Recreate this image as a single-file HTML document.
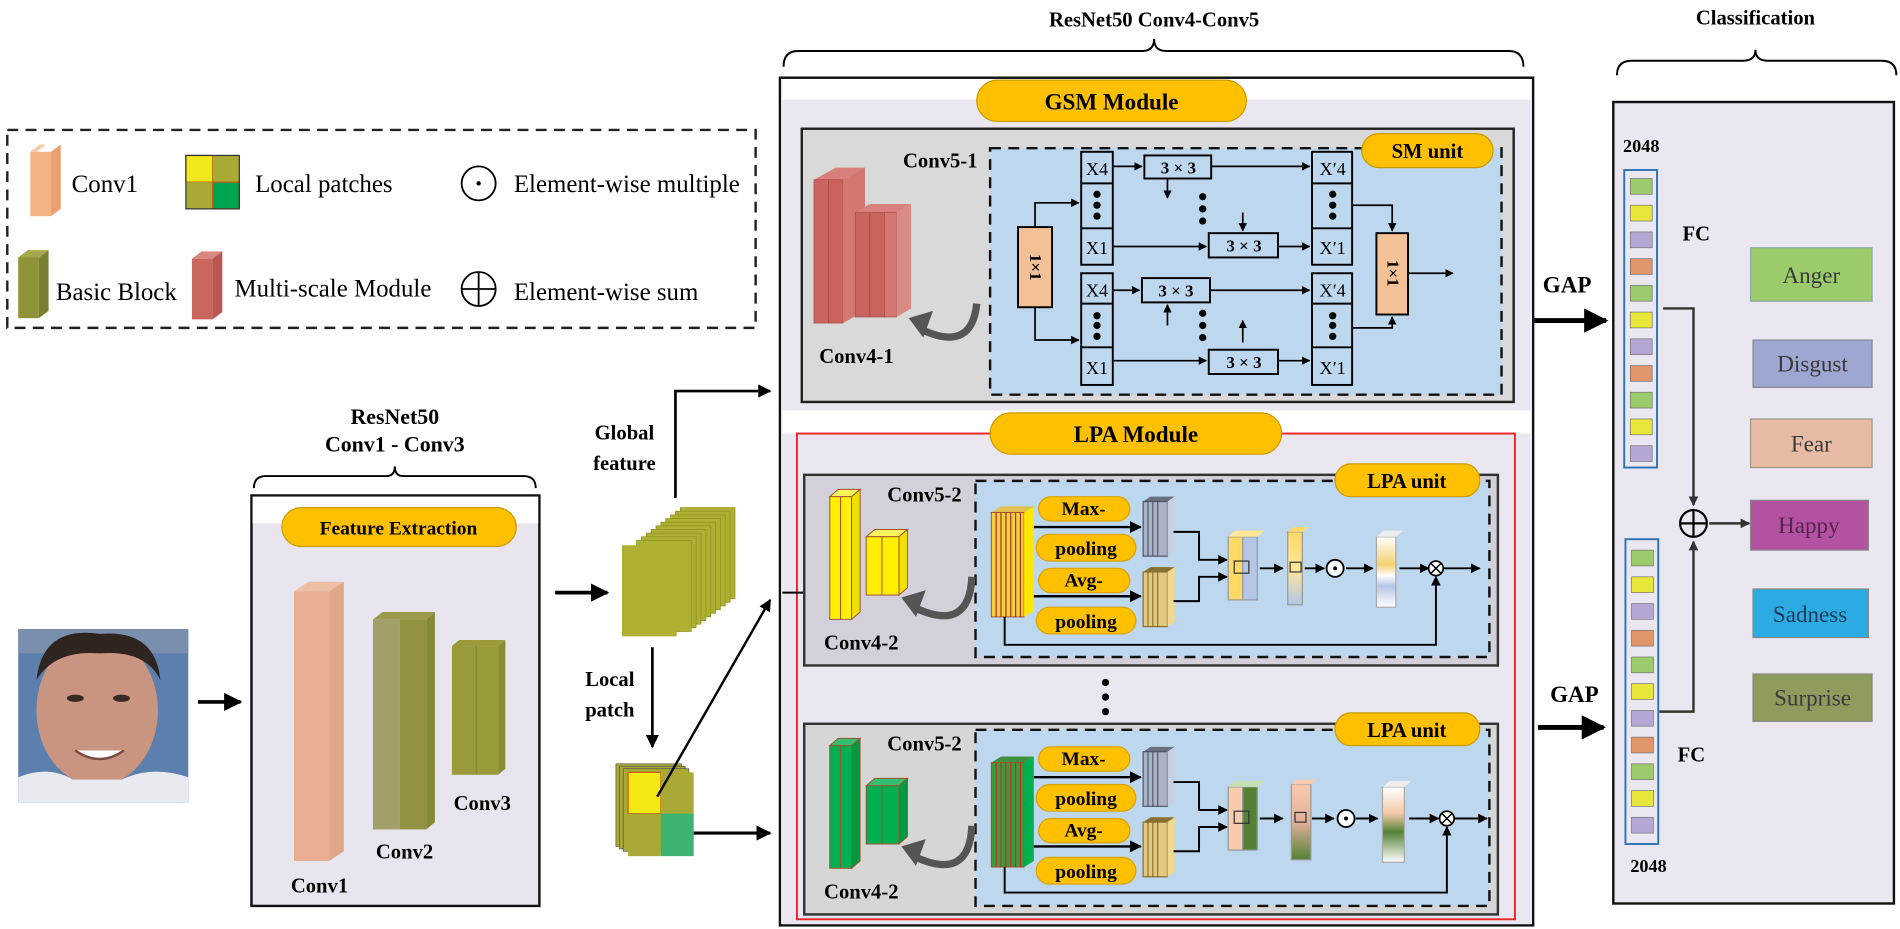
<!DOCTYPE html>
<html><head><meta charset="utf-8"><style>
html,body{margin:0;padding:0;background:#fff;}
svg{display:block;}
text{font-family:"Liberation Serif",serif;}
.b{font-weight:bold;}
</style></head><body>
<svg width="1900" height="929" viewBox="0 0 1564 765" preserveAspectRatio="none" xmlns="http://www.w3.org/2000/svg">
<defs>
<marker id="ar" viewBox="0 0 10 10" refX="9" refY="5" markerWidth="5" markerHeight="5" orient="auto-start-reverse"><path d="M0,0 L10,5 L0,10 z" fill="#000"/></marker>
<marker id="arg" viewBox="0 0 10 10" refX="9" refY="5" markerWidth="4" markerHeight="4" orient="auto"><path d="M0,0 L10,5 L0,10 z" fill="#333"/></marker>
<linearGradient id="wy" x1="0" y1="0" x2="0" y2="1"><stop offset="0" stop-color="#fff"/><stop offset="0.4" stop-color="#f4d070"/><stop offset="0.55" stop-color="#fff"/><stop offset="0.7" stop-color="#b4c7e7"/><stop offset="1" stop-color="#fff"/></linearGradient>
<linearGradient id="wg" x1="0" y1="0" x2="0" y2="1"><stop offset="0" stop-color="#fff"/><stop offset="0.35" stop-color="#f4c9a8"/><stop offset="0.6" stop-color="#548235"/><stop offset="1" stop-color="#fff"/></linearGradient>
<linearGradient id="yb" x1="0" y1="0" x2="0" y2="1"><stop offset="0" stop-color="#ffd966"/><stop offset="0.5" stop-color="#ffe699"/><stop offset="1" stop-color="#b4c7e7"/></linearGradient>
<linearGradient id="pg" x1="0" y1="0" x2="0" y2="1"><stop offset="0" stop-color="#f8cbad"/><stop offset="0.5" stop-color="#e2b09a"/><stop offset="1" stop-color="#548235"/></linearGradient>
</defs>

<!-- ===== Legend ===== -->
<rect x="6" y="107" width="616" height="163" fill="#fff" stroke="#222" stroke-width="2" stroke-dasharray="9,6"/>
<polygon points="25,125 33,119 38,119 30,125" fill="#f8c8a0"/><rect x="25" y="125" width="17" height="53" fill="#f4b183"/><polygon points="42,125 50,119 50,172 42,178" fill="#eaa070"/>
<text x="59" y="158" font-size="20.5">Conv1</text>
<rect x="153" y="128" width="22" height="22" fill="#f2e91c" stroke="#c55a11"/><rect x="175" y="128" width="22" height="22" fill="#a9a935"/><rect x="153" y="150" width="22" height="22" fill="#a9a935"/><rect x="175" y="150" width="22" height="22" fill="#00a550" stroke="#c55a11"/><rect x="153" y="128" width="44" height="44" fill="none" stroke="#333"/>
<text x="210" y="158" font-size="20.5">Local patches</text>
<circle cx="394" cy="151" r="14" fill="none" stroke="#000" stroke-width="1.5"/><circle cx="394" cy="151" r="1.8"/>
<text x="423" y="158" font-size="20.5">Element-wise multiple</text>
<polygon points="15,212 23,206 40,206 32,212" fill="#a5a84a"/><rect x="15" y="212" width="17" height="50" fill="#8f9438"/><polygon points="32,212 40,206 40,256 32,262" fill="#7b8030"/>
<text x="46" y="247" font-size="20.5">Basic Block</text>
<polygon points="158,213 166,207 183,207 175,213" fill="#d98880"/><rect x="158" y="213" width="17" height="50" fill="#c9665e"/><polygon points="175,213 183,207 183,257 175,263" fill="#b85850"/>
<text x="193" y="244" font-size="20.5">Multi-scale Module</text>
<circle cx="394" cy="238" r="14" fill="none" stroke="#000" stroke-width="1.5"/><line x1="380" y1="238" x2="408" y2="238" stroke="#000" stroke-width="1.5"/><line x1="394" y1="224" x2="394" y2="252" stroke="#000" stroke-width="1.5"/>
<text x="423" y="247" font-size="20.5">Element-wise sum</text>

<!-- ===== Left part ===== -->
<text x="325" y="349" font-size="18" class="b" text-anchor="middle">ResNet50</text>
<text x="325" y="372" font-size="18" class="b" text-anchor="middle">Conv1 - Conv3</text>
<path d="M209,402 Q209,392 219,392 L318,392 Q325,392 325,384 Q325,392 332,392 L431,392 Q441,392 441,402" fill="none" stroke="#000" stroke-width="1.6"/>
<rect x="207" y="408" width="237" height="338" fill="#e9e5ef" stroke="#111" stroke-width="2"/>
<rect x="208" y="409" width="235" height="22" fill="#fff"/>
<rect x="232" y="418" width="193" height="32" rx="16" fill="#ffc000" stroke="#c99a00"/>
<text x="328" y="440" font-size="16" class="b" text-anchor="middle">Feature Extraction</text>
<polygon points="242,487 254,479 283,479 271,487" fill="#efbfa5"/><rect x="242" y="487" width="29" height="222" fill="#e8ae92"/><polygon points="271,487 283,479 283,701 271,709" fill="#e0a688"/>
<polygon points="307,510 315,504 358,504 351,510" fill="#9a9a4a"/><rect x="307" y="510" width="22" height="173" fill="#a19f6a"/><rect x="329" y="510" width="22" height="173" fill="#929340"/><polygon points="351,510 358,504 358,677 351,683" fill="#858a35"/>
<polygon points="372,532 378,527 416,527 410,532" fill="#9a9a3a"/><rect x="372" y="532" width="38" height="106" fill="#999a3a"/><line x1="392" y1="532" x2="392" y2="638" stroke="#858a35"/><polygon points="410,532 416,527 416,633 410,638" fill="#8a8c30"/>
<text x="263" y="735" font-size="17" class="b" text-anchor="middle">Conv1</text>
<text x="333" y="707" font-size="17" class="b" text-anchor="middle">Conv2</text>
<text x="397" y="667" font-size="17" class="b" text-anchor="middle">Conv3</text>

<!-- face -->
<rect x="15" y="518" width="140" height="143" fill="#5d7fae"/>
<rect x="15" y="518" width="140" height="20" fill="#7a8fae"/>
<ellipse cx="80" cy="585" rx="50" ry="62" fill="#c99580"/>
<path d="M30,560 Q35,515 82,522 Q128,518 132,560 Q120,535 82,538 Q45,535 30,560z" fill="#2e2420"/>
<path d="M15,661 L15,640 Q40,630 60,642 L100,642 Q125,630 155,640 L155,661z" fill="#e8eaf0"/>
<ellipse cx="62" cy="575" rx="7" ry="3" fill="#3a2a25"/><ellipse cx="100" cy="575" rx="7" ry="3" fill="#3a2a25"/>
<path d="M62,618 Q82,632 102,618" fill="#fff" stroke="#7a4a40" stroke-width="2"/>
<line x1="163" y1="578" x2="198" y2="578" stroke="#000" stroke-width="3" marker-end="url(#ar)"/>
<line x1="457" y1="488" x2="500" y2="488" stroke="#000" stroke-width="3" marker-end="url(#ar)"/>

<!-- green stack -->
<g fill="#aeb032" stroke="#8e8f20" stroke-width="0.6">
<rect x="560" y="418" width="45" height="75"/><rect x="556" y="421" width="45" height="75"/><rect x="552" y="424" width="45" height="75"/><rect x="548" y="427" width="45" height="75"/><rect x="544" y="430" width="45" height="75"/><rect x="540" y="433" width="45" height="75"/><rect x="536" y="436" width="45" height="75"/><rect x="532" y="439" width="45" height="75"/><rect x="528" y="442" width="45" height="75"/><rect x="524" y="445" width="45" height="75"/><rect x="512" y="449" width="45" height="75" stroke="none"/>
</g>
<text x="514" y="362" font-size="17" class="b" text-anchor="middle">Global</text>
<text x="514" y="387" font-size="17" class="b" text-anchor="middle">feature</text>
<polyline points="556,410 556,322 634,322" fill="none" stroke="#000" stroke-width="2.2" marker-end="url(#ar)"/>
<text x="502" y="565" font-size="17" class="b" text-anchor="middle">Local</text>
<text x="502" y="590" font-size="17" class="b" text-anchor="middle">patch</text>
<line x1="537" y1="533" x2="537" y2="615" stroke="#000" stroke-width="2.2" marker-end="url(#ar)"/>
<!-- local patch -->
<g stroke="#555" stroke-width="0.6"><rect x="507" y="629" width="54" height="68" fill="#a9a935"/><rect x="510" y="631" width="54" height="68" fill="#a9a935"/><rect x="513" y="633" width="54" height="68" fill="#a9a935"/></g>
<rect x="517" y="636" width="27" height="34" fill="#f5e815" stroke="#c55a11"/><rect x="544" y="636" width="27" height="34" fill="#a9a935"/><rect x="517" y="670" width="27" height="35" fill="#a9a935"/><rect x="544" y="670" width="27" height="35" fill="#3cb371"/>
<line x1="541" y1="656" x2="634" y2="494" stroke="#000" stroke-width="2" marker-end="url(#ar)"/>
<line x1="571" y1="686" x2="634" y2="686" stroke="#000" stroke-width="2.5" marker-end="url(#ar)"/>

<!-- ===== Main box ===== -->
<text x="950" y="22" font-size="17" class="b" text-anchor="middle">ResNet50  Conv4-Conv5</text>
<path d="M645,55 Q645,42 657,42 L940,42 Q950,42 950,32 Q950,42 960,42 L1242,42 Q1254,42 1254,55" fill="none" stroke="#000" stroke-width="1.6"/>
<rect x="642" y="64" width="620" height="698" fill="#fff" stroke="#111" stroke-width="2"/>
<rect x="644" y="82" width="616" height="256" fill="#ebe7f0"/>
<rect x="644" y="357" width="616" height="404" fill="#ebe7f0"/>

<!-- GSM -->
<rect x="660" y="106" width="586" height="225" fill="#d9d9d9" stroke="#222" stroke-width="2"/>
<rect x="815" y="122" width="421" height="203" fill="#bdd7ee" stroke="#111" stroke-width="2" stroke-dasharray="9,6"/>
<rect x="804" y="66" width="222" height="34" rx="17" fill="#ffc000" stroke="#c99a00"/>
<text x="915" y="90" font-size="19" class="b" text-anchor="middle">GSM Module</text>
<rect x="1121" y="110" width="108" height="28" rx="14" fill="#ffc000" stroke="#c99a00"/>
<text x="1175" y="130" font-size="17" class="b" text-anchor="middle">SM unit</text>
<text x="774" y="138" font-size="17" class="b" text-anchor="middle">Conv5-1</text>
<polygon points="670,148 688,138 712,138 694,148" fill="#d9807a"/>
<rect x="670" y="148" width="12" height="118" fill="#c8655e" stroke="#a84a44" stroke-width="0.6"/><rect x="682" y="148" width="12" height="118" fill="#c9635c" stroke="#a84a44" stroke-width="0.6"/>
<polygon points="694,148 712,138 712,256 694,266" fill="#d37770"/>
<polygon points="704,175 716,168 750,168 738,175" fill="#d9807a"/>
<rect x="704" y="175" width="12" height="86" fill="#c8655e" stroke="#a84a44" stroke-width="0.6"/><rect x="716" y="175" width="12" height="86" fill="#c9635c" stroke="#a84a44" stroke-width="0.6"/><rect x="728" y="175" width="10" height="86" fill="#d37770" stroke="#a84a44" stroke-width="0.6"/>
<polygon points="738,175 750,168 750,254 738,261" fill="#d88a84"/>
<text x="705" y="299" font-size="17" class="b" text-anchor="middle">Conv4-1</text>
<path d="M804,250 Q800,290 760,272" fill="none" stroke="#555" stroke-width="6"/>
<polygon points="748,262 768,256 760,278" fill="#555"/>
<g stroke="#000" stroke-width="1.6" fill="none">
<rect x="838" y="187" width="28" height="66" fill="#f4c196"/>
<rect x="1133" y="192" width="26" height="67" fill="#f4c196"/>
<rect x="890" y="125" width="26" height="93" fill="#bdd7ee"/><line x1="890" y1="151" x2="916" y2="151"/><line x1="890" y1="188" x2="916" y2="188"/>
<rect x="890" y="225" width="26" height="92" fill="#bdd7ee"/><line x1="890" y1="250" x2="916" y2="250"/><line x1="890" y1="286" x2="916" y2="286"/>
<rect x="1080" y="125" width="33" height="93" fill="#bdd7ee"/><line x1="1080" y1="151" x2="1113" y2="151"/><line x1="1080" y1="188" x2="1113" y2="188"/>
<rect x="1080" y="225" width="33" height="92" fill="#bdd7ee"/><line x1="1080" y1="250" x2="1113" y2="250"/><line x1="1080" y1="286" x2="1113" y2="286"/>
<rect x="942" y="128" width="55" height="19"/><rect x="995" y="192" width="57" height="20"/><rect x="940" y="229" width="56" height="20"/><rect x="995" y="288" width="57" height="20"/>
</g>
<g stroke="#000" stroke-width="1.4" fill="none" marker-end="url(#ar)">
<polyline points="852,187 852,167 888,167"/><polyline points="852,253 852,280 888,280"/>
<line x1="916" y1="137" x2="940" y2="137"/><line x1="997" y1="137" x2="1078" y2="137"/>
<line x1="916" y1="203" x2="993" y2="203"/><line x1="1052" y1="203" x2="1078" y2="203"/>
<line x1="916" y1="239" x2="938" y2="239"/><line x1="996" y1="239" x2="1078" y2="239"/>
<line x1="916" y1="297" x2="993" y2="297"/><line x1="1052" y1="297" x2="1078" y2="297"/>
<line x1="961" y1="147" x2="961" y2="163"/><line x1="1023" y1="175" x2="1023" y2="190"/>
<line x1="961" y1="268" x2="961" y2="251"/><line x1="1023" y1="282" x2="1023" y2="264"/>
<polyline points="1113,169 1146,169 1146,190"/><polyline points="1113,270 1146,270 1146,261"/>
<line x1="1159" y1="225" x2="1196" y2="225"/>
</g>
<g font-size="15" text-anchor="middle">
<text x="903" y="144">X4</text><text x="903" y="209">X1</text><text x="903" y="244">X4</text><text x="903" y="308">X1</text>
<text x="1097" y="144">X′4</text><text x="1097" y="209">X′1</text><text x="1097" y="244">X′4</text><text x="1097" y="308">X′1</text>
</g>
<g font-size="14" class="b" text-anchor="middle"><text x="970" y="143">3 × 3</text><text x="1024" y="207">3 × 3</text><text x="968" y="244">3 × 3</text><text x="1024" y="303">3 × 3</text></g>
<text transform="translate(848,220) rotate(90)" font-size="14" class="b" text-anchor="middle">1×1</text>
<text transform="translate(1142,225) rotate(90)" font-size="14" class="b" text-anchor="middle">1×1</text>
<g fill="#000"><circle cx="903" cy="160" r="3"/><circle cx="903" cy="169" r="3"/><circle cx="903" cy="178" r="3"/><circle cx="903" cy="260" r="3"/><circle cx="903" cy="268" r="3"/><circle cx="903" cy="277" r="3"/>
<circle cx="1097" cy="160" r="3"/><circle cx="1097" cy="169" r="3"/><circle cx="1097" cy="178" r="3"/><circle cx="1097" cy="260" r="3"/><circle cx="1097" cy="268" r="3"/><circle cx="1097" cy="277" r="3"/>
<circle cx="990" cy="162" r="3"/><circle cx="990" cy="172" r="3"/><circle cx="990" cy="182" r="3"/><circle cx="990" cy="258" r="3"/><circle cx="990" cy="268" r="3"/><circle cx="990" cy="278" r="3"/></g>

<!-- LPA module -->
<rect x="656" y="357" width="591" height="400" fill="none" stroke="#e8262a" stroke-width="1.6"/>
<rect x="815" y="340" width="240" height="34" rx="17" fill="#ffc000" stroke="#c99a00"/>
<text x="935" y="364" font-size="19" class="b" text-anchor="middle">LPA Module</text>
<g fill="#000"><circle cx="910" cy="562" r="3"/><circle cx="910" cy="574" r="3"/><circle cx="910" cy="586" r="3"/></g>
<line x1="644" y1="488" x2="677" y2="488" stroke="#000" stroke-width="1.6" marker-end="url(#ar)"/>

<!-- LPA unit 1 -->
<rect x="662" y="391" width="571" height="157" fill="#d3d0da" stroke="#333" stroke-width="2"/>
<rect x="803" y="396" width="423" height="145" fill="#bdd7ee" stroke="#111" stroke-width="2" stroke-dasharray="9,6"/>
<rect x="1099" y="382" width="119" height="27" rx="13" fill="#ffc000" stroke="#c99a00"/>
<text x="1158" y="402" font-size="17" class="b" text-anchor="middle">LPA unit</text>
<text x="761" y="413" font-size="17" class="b" text-anchor="middle">Conv5-2</text>
<text x="709" y="535" font-size="17" class="b" text-anchor="middle">Conv4-2</text>
<g stroke="#a0522d" stroke-width="0.8" fill="#ffef00">
<polygon points="683,409 690,403 708,403 701,409" fill="#fff45c"/><rect x="683" y="409" width="9" height="101"/><rect x="692" y="409" width="9" height="101"/><polygon points="701,409 708,403 708,504 701,510" fill="#f0e000"/>
<polygon points="713,442 720,436 747,436 740,442" fill="#fff45c"/><rect x="713" y="442" width="13" height="48"/><rect x="726" y="442" width="14" height="48"/><polygon points="740,442 747,436 747,484 740,490" fill="#f0e000"/>
</g>
<path d="M800,475 Q798,522 752,500" fill="none" stroke="#555" stroke-width="6"/><polygon points="742,492 762,486 754,508" fill="#555"/>

<g>
<polygon points="816,422 824,417 851,417 843,422" fill="#e2c050"/>
<rect x="816" y="422" width="27" height="86" fill="#f0d040" stroke="#a0522d" stroke-width="0.8"/>
<g stroke="#b03020" stroke-width="1"><line x1="820" y1="422" x2="820" y2="508"/><line x1="824" y1="422" x2="824" y2="508"/><line x1="828" y1="422" x2="828" y2="508"/><line x1="832" y1="422" x2="832" y2="508"/><line x1="836" y1="422" x2="836" y2="508"/><line x1="840" y1="422" x2="840" y2="508"/></g>
<polygon points="843,422 851,417 851,503 843,508" fill="#ffe800"/>
<g fill="#ffc000" stroke="#d9a400"><rect x="855" y="409" width="75" height="20" rx="10"/><rect x="853" y="440" width="82" height="22" rx="11"/><rect x="855" y="468" width="75" height="20" rx="10"/><rect x="853" y="500" width="82" height="22" rx="11"/></g>
<g font-size="16" class="b" text-anchor="middle"><text x="892" y="424">Max-</text><text x="894" y="457">pooling</text><text x="892" y="483">Avg-</text><text x="894" y="517">pooling</text></g>
<g stroke="#000" stroke-width="2" fill="none" marker-end="url(#ar)"><line x1="851" y1="434" x2="939" y2="434"/><line x1="851" y1="491" x2="939" y2="491"/></g>
<polygon points="941,413 947,409 967,409 961,413" fill="#6a7080"/><rect x="941" y="413" width="20" height="45" fill="#a9b4c8" stroke="#556"/><g stroke="#445" stroke-width="0.8"><line x1="945" y1="413" x2="945" y2="458"/><line x1="949" y1="413" x2="949" y2="458"/><line x1="953" y1="413" x2="953" y2="458"/></g><polygon points="961,413 967,409 967,454 961,458" fill="#c8d0e0"/>
<polygon points="941,471 947,467 967,467 961,471" fill="#8a7030"/><rect x="941" y="471" width="20" height="45" fill="#e3c880" stroke="#8a7030"/><g stroke="#7a6020" stroke-width="0.8"><line x1="945" y1="471" x2="945" y2="516"/><line x1="949" y1="471" x2="949" y2="516"/><line x1="953" y1="471" x2="953" y2="516"/></g><polygon points="961,471 967,467 967,512 961,516" fill="#f0d890"/>
<g stroke="#000" stroke-width="1.6" fill="none" marker-end="url(#ar)"><polyline points="966,438 987,438 987,461 1010,461"/><polyline points="966,495 987,495 987,475 1010,475"/>
<line x1="1037" y1="468" x2="1056" y2="468"/><line x1="1074" y1="468" x2="1090" y2="468"/><line x1="1108" y1="468" x2="1130" y2="468"/><line x1="1152" y1="468" x2="1176" y2="468"/><line x1="1188" y1="468" x2="1218" y2="468"/>
<polyline points="827,508 827,531 1182,531 1182,475"/></g>
<rect x="1011" y="442" width="12" height="52" fill="#ffd966" stroke="#999"/><rect x="1023" y="442" width="12" height="52" fill="#b4c7e7" stroke="#999"/><polygon points="1011,442 1017,437 1041,437 1035,442" fill="#ffe699"/><rect x="1016" y="462" width="12" height="10" fill="none" stroke="#333"/>
<rect x="1060" y="438" width="12" height="60" fill="url(#yb)" stroke="#999"/><polygon points="1060,438 1065,434 1077,434 1072,438" fill="#ffd966"/><rect x="1062" y="463" width="9" height="8" fill="none" stroke="#333"/>
<circle cx="1099" cy="468" r="7" fill="#fff" stroke="#000" stroke-width="1.5"/><circle cx="1099" cy="468" r="1.6"/>
<rect x="1133" y="442" width="16" height="58" fill="url(#wy)" stroke="#aaa"/><polygon points="1133,442 1139,437 1155,437 1149,442" fill="#eee"/>
<circle cx="1182" cy="468" r="6" fill="#fff" stroke="#000" stroke-width="1.4"/><path d="M1178,464 L1186,472 M1186,464 L1178,472" stroke="#000" stroke-width="1.2"/>
</g>

<!-- LPA unit 2 -->
<rect x="662" y="596" width="571" height="157" fill="#d6d6d6" stroke="#333" stroke-width="2"/>
<rect x="803" y="601" width="423" height="145" fill="#bdd7ee" stroke="#111" stroke-width="2" stroke-dasharray="9,6"/>
<rect x="1099" y="587" width="119" height="27" rx="13" fill="#ffc000" stroke="#c99a00"/>
<text x="1158" y="607" font-size="17" class="b" text-anchor="middle">LPA unit</text>
<text x="761" y="618" font-size="17" class="b" text-anchor="middle">Conv5-2</text>
<text x="709" y="740" font-size="17" class="b" text-anchor="middle">Conv4-2</text>
<g stroke="#a0522d" stroke-width="0.8" fill="#00b050">
<polygon points="683,614 690,608 708,608 701,614" fill="#33c070"/><rect x="683" y="614" width="9" height="101"/><rect x="692" y="614" width="9" height="101"/><polygon points="701,614 708,608 708,709 701,715" fill="#009940"/>
<polygon points="713,647 720,641 747,641 740,647" fill="#33c070"/><rect x="713" y="647" width="13" height="48"/><rect x="726" y="647" width="14" height="48"/><polygon points="740,647 747,641 747,689 740,695" fill="#009940"/>
</g>
<path d="M800,680 Q798,727 752,705" fill="none" stroke="#555" stroke-width="6"/><polygon points="742,697 762,691 754,713" fill="#555"/>
<g transform="translate(0,206)">
<polygon points="816,422 824,417 851,417 843,422" fill="#409040"/>
<rect x="816" y="422" width="27" height="86" fill="#3a9a40" stroke="#a0522d" stroke-width="0.8"/>
<g stroke="#c03020" stroke-width="1"><line x1="820" y1="422" x2="820" y2="508"/><line x1="824" y1="422" x2="824" y2="508"/><line x1="828" y1="422" x2="828" y2="508"/><line x1="832" y1="422" x2="832" y2="508"/><line x1="836" y1="422" x2="836" y2="508"/><line x1="840" y1="422" x2="840" y2="508"/></g>
<polygon points="843,422 851,417 851,503 843,508" fill="#00b050"/>
<g fill="#ffc000" stroke="#d9a400"><rect x="855" y="409" width="75" height="20" rx="10"/><rect x="853" y="440" width="82" height="22" rx="11"/><rect x="855" y="468" width="75" height="20" rx="10"/><rect x="853" y="500" width="82" height="22" rx="11"/></g>
<g font-size="16" class="b" text-anchor="middle"><text x="892" y="424">Max-</text><text x="894" y="457">pooling</text><text x="892" y="483">Avg-</text><text x="894" y="517">pooling</text></g>
<g stroke="#000" stroke-width="2" fill="none" marker-end="url(#ar)"><line x1="851" y1="434" x2="939" y2="434"/><line x1="851" y1="491" x2="939" y2="491"/></g>
<polygon points="941,413 947,409 967,409 961,413" fill="#6a7080"/><rect x="941" y="413" width="20" height="45" fill="#a9b4c8" stroke="#556"/><g stroke="#445" stroke-width="0.8"><line x1="945" y1="413" x2="945" y2="458"/><line x1="949" y1="413" x2="949" y2="458"/><line x1="953" y1="413" x2="953" y2="458"/></g><polygon points="961,413 967,409 967,454 961,458" fill="#c8d0e0"/>
<polygon points="941,471 947,467 967,467 961,471" fill="#8a7030"/><rect x="941" y="471" width="20" height="45" fill="#e3c880" stroke="#8a7030"/><g stroke="#7a6020" stroke-width="0.8"><line x1="945" y1="471" x2="945" y2="516"/><line x1="949" y1="471" x2="949" y2="516"/><line x1="953" y1="471" x2="953" y2="516"/></g><polygon points="961,471 967,467 967,512 961,516" fill="#f0d890"/>
<g stroke="#000" stroke-width="1.6" fill="none" marker-end="url(#ar)"><polyline points="966,438 987,438 987,461 1010,461"/><polyline points="966,495 987,495 987,475 1010,475"/>
<line x1="1037" y1="468" x2="1056" y2="468"/><line x1="1080" y1="468" x2="1098" y2="468"/><line x1="1116" y1="468" x2="1134" y2="468"/><line x1="1160" y1="468" x2="1184" y2="468"/><line x1="1197" y1="468" x2="1224" y2="468"/>
<polyline points="827,508 827,529 1191,529 1191,475"/></g>
<rect x="1011" y="442" width="12" height="52" fill="#f8cbad" stroke="#999"/><rect x="1023" y="442" width="12" height="52" fill="#548235" stroke="#999"/><polygon points="1011,442 1017,437 1041,437 1035,442" fill="#c5e0b4"/><rect x="1016" y="462" width="12" height="10" fill="none" stroke="#333"/>
<rect x="1063" y="440" width="16" height="62" fill="url(#pg)" stroke="#999"/><polygon points="1063,440 1068,436 1084,436 1079,440" fill="#f8cbad"/><rect x="1066" y="463" width="9" height="8" fill="none" stroke="#333"/>
<circle cx="1108" cy="468" r="7" fill="#fff" stroke="#000" stroke-width="1.5"/><circle cx="1108" cy="468" r="1.6"/>
<rect x="1138" y="442" width="18" height="62" fill="url(#wg)" stroke="#aaa"/><polygon points="1138,442 1144,437 1162,437 1156,442" fill="#eee"/>
<circle cx="1191" cy="468" r="6" fill="#fff" stroke="#000" stroke-width="1.4"/><path d="M1187,464 L1195,472 M1195,464 L1187,472" stroke="#000" stroke-width="1.2"/>
</g>

<!-- GAP arrows -->
<text x="1290" y="241" font-size="19" class="b" text-anchor="middle">GAP</text>
<line x1="1263" y1="264" x2="1322" y2="264" stroke="#000" stroke-width="4" marker-end="url(#ar)"/>
<text x="1296" y="578" font-size="19" class="b" text-anchor="middle">GAP</text>
<line x1="1266" y1="599" x2="1320" y2="599" stroke="#000" stroke-width="4" marker-end="url(#ar)"/>

<!-- Classification -->
<text x="1445" y="20" font-size="17" class="b" text-anchor="middle">Classification</text>
<path d="M1331,62 Q1331,50 1343,50 L1435,50 Q1445,50 1445,41 Q1445,50 1455,50 L1549,50 Q1561,50 1561,62" fill="none" stroke="#000" stroke-width="1.6"/>
<rect x="1328" y="84" width="231" height="660" fill="#ebe7f0" stroke="#111" stroke-width="2"/>
<text x="1351" y="125" font-size="15" class="b" text-anchor="middle">2048</text>
<text x="1357" y="718" font-size="15" class="b" text-anchor="middle">2048</text>
<text x="1385" y="198" font-size="17" class="b">FC</text>
<text x="1381" y="627" font-size="17" class="b">FC</text>
<rect x="1337" y="140" width="27" height="245" fill="none" stroke="#2e75b6" stroke-width="1.6"/>
<rect x="1338" y="444" width="27" height="251" fill="none" stroke="#2e75b6" stroke-width="1.6"/>
<g stroke="#777" stroke-width="0.6">
<rect x="1342" y="147" width="18" height="13" fill="#9ccb6b"/><rect x="1342" y="169" width="18" height="13" fill="#e8e63a"/><rect x="1342" y="191" width="18" height="13" fill="#b4a7d6"/><rect x="1342" y="213" width="18" height="13" fill="#e0956a"/><rect x="1342" y="235" width="18" height="13" fill="#9ccb6b"/><rect x="1342" y="257" width="18" height="13" fill="#e8e63a"/><rect x="1342" y="279" width="18" height="13" fill="#b4a7d6"/><rect x="1342" y="301" width="18" height="13" fill="#e0956a"/><rect x="1342" y="323" width="18" height="13" fill="#9ccb6b"/><rect x="1342" y="345" width="18" height="13" fill="#e8e63a"/><rect x="1342" y="367" width="18" height="13" fill="#b4a7d6"/>
<rect x="1343" y="453" width="18" height="13" fill="#9ccb6b"/><rect x="1343" y="475" width="18" height="13" fill="#e8e63a"/><rect x="1343" y="497" width="18" height="13" fill="#b4a7d6"/><rect x="1343" y="519" width="18" height="13" fill="#e0956a"/><rect x="1343" y="541" width="18" height="13" fill="#9ccb6b"/><rect x="1343" y="563" width="18" height="13" fill="#e8e63a"/><rect x="1343" y="585" width="18" height="13" fill="#b4a7d6"/><rect x="1343" y="607" width="18" height="13" fill="#e0956a"/><rect x="1343" y="629" width="18" height="13" fill="#9ccb6b"/><rect x="1343" y="651" width="18" height="13" fill="#e8e63a"/><rect x="1343" y="673" width="18" height="13" fill="#b4a7d6"/>
</g>
<g stroke="#333" stroke-width="2" fill="none" marker-end="url(#arg)"><polyline points="1369,254 1394,254 1394,416"/><polyline points="1366,586 1394,586 1394,446"/><line x1="1407" y1="431" x2="1440" y2="431"/></g>
<circle cx="1394" cy="431" r="11" fill="none" stroke="#000" stroke-width="1.8"/><line x1="1383" y1="431" x2="1405" y2="431" stroke="#000" stroke-width="1.8"/><line x1="1394" y1="420" x2="1394" y2="442" stroke="#000" stroke-width="1.8"/>
<g font-size="19" text-anchor="middle" fill="#3a3a3a">
<rect x="1441" y="204" width="100" height="44" fill="#9ccb6b" stroke="#8aa"/><text x="1491" y="233">Anger</text>
<rect x="1443" y="280" width="98" height="39" fill="#9ea6d2" stroke="#889"/><text x="1492" y="306">Disgust</text>
<rect x="1441" y="345" width="100" height="40" fill="#e8bca4" stroke="#998"/><text x="1491" y="372">Fear</text>
<rect x="1441" y="412" width="97" height="41" fill="#b452a2" stroke="#888"/><text x="1489" y="439" fill="#5a2050">Happy</text>
<rect x="1443" y="485" width="95" height="40" fill="#2cabe2" stroke="#888"/><text x="1490" y="512" fill="#1a3a5a">Sadness</text>
<rect x="1443" y="555" width="98" height="39" fill="#8f9c5e" stroke="#888"/><text x="1492" y="581">Surprise</text>
</g>
</svg>
</body></html>
